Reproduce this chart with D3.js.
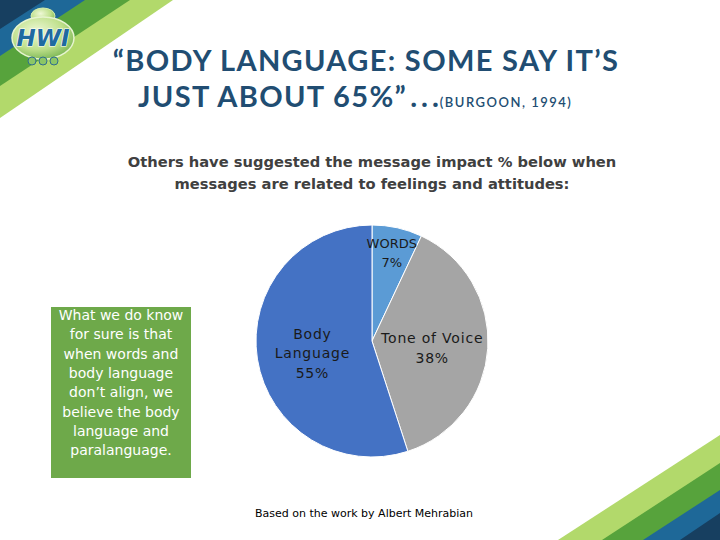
<!DOCTYPE html>
<html>
<head>
<meta charset="utf-8">
<script src="https://cdn.jsdelivr.net/npm/d3@7"></script>
<style>
  html, body { margin: 0; padding: 0; background: #fff; }
  svg { display: block; }
</style>
</head>
<body>
<div id="chart"></div>
<script>
// dati della torta
var categories = ["WORDS", "Tone of Voice", "Body Language"];
var values = [7, 38, 55];
var labelLines = [["WORDS"], ["Tone of Voice"], ["Body", "Language"]];
var sliceColors = ["#5b9bd5", "#a5a5a5", "#4472c4"];

var titleLines = ["\u201cBODY LANGUAGE: SOME SAY IT\u2019S", "JUST ABOUT 65%\u201d"];
var titleDots = "...";
var titleNote = "(BURGOON, 1994)";
var subtitleLines = ["Others have suggested the message impact % below when",
                     "messages are related to feelings and attitudes:"];
var boxLines = ["What we do know", "for sure is that", "when words and", "body language",
                "don\u2019t align, we", "believe the body", "language and", "paralanguage."];
var footer = "Based on the work by Albert Mehrabian";

var width = 720;
var height = 540;

var svg = d3.select("#chart")
            .append("svg")
            .attr("width", width)
            .attr("height", height);

// strisce decorative (angoli)
var stripeColors = ["#b2d96b", "#57a33c", "#1e6898", "#173f60"];
var topLeft = [[173, 118], [130, 86], [85, 56], [45, 29]];
var bottomRight = [[435, 558], [463, 602], [490, 643], [513, 680]];

stripeColors.forEach(function(c, i) {
    svg.append("polygon")
       .attr("points", [[0, 0], [topLeft[i][0], 0], [0, topLeft[i][1]]].join(" "))
       .attr("fill", c);
    svg.append("polygon")
       .attr("points", [[width, height], [width, bottomRight[i][0]], [bottomRight[i][1], height]].join(" "))
       .attr("fill", c);
});

// logo HWI (approssimato)
var defs = svg.append("defs");
var grad = defs.append("radialGradient").attr("id", "logoGrad").attr("cx", "40%").attr("cy", "35%").attr("r", "70%");
grad.append("stop").attr("offset", "0%").attr("stop-color", "#eef8d6");
grad.append("stop").attr("offset", "60%").attr("stop-color", "#bfe08c");
grad.append("stop").attr("offset", "100%").attr("stop-color", "#79b552");

var logo = svg.append("g").attr("transform", "translate(43,38)");
logo.append("ellipse").attr("cx", 0).attr("cy", -22).attr("rx", 12).attr("ry", 8).attr("fill", "url(#logoGrad)").attr("stroke", "#d6eeb0");
logo.append("ellipse").attr("cx", 0).attr("cy", 0).attr("rx", 31).attr("ry", 21).attr("fill", "url(#logoGrad)").attr("stroke", "#e6f4cf").attr("stroke-width", 1.5);
[-11, 0, 11].forEach(function(x) {
    logo.append("circle").attr("cx", x).attr("cy", 23).attr("r", 4).attr("fill", "#8cc665").attr("stroke", "#2f6d8f").attr("stroke-width", 1);
});
logo.append("text")
    .attr("x", 0).attr("y", 8)
    .attr("text-anchor", "middle")
    .style("font", "italic bold 23px 'DejaVu Sans', sans-serif")
    .attr("fill", "#1f6aa0")
    .attr("stroke", "#ffffff")
    .attr("stroke-width", 1.2)
    .attr("paint-order", "stroke")
    .text("HWI");

// titolo
var titleColor = "#214d72";
svg.append("text")
   .attr("x", 366).attr("y", 71)
   .attr("text-anchor", "middle")
   .style("font", "bold 29px Lato, sans-serif")
   .style("letter-spacing", "1.35px")
   .attr("fill", titleColor)
   .text(titleLines[0]);

var t2 = svg.append("text")
   .attr("x", 138).attr("y", 107)
   .style("font", "bold 29px Lato, sans-serif")
   .style("letter-spacing", "1.35px")
   .attr("fill", titleColor);
t2.append("tspan").text(titleLines[1]);
t2.append("tspan").style("letter-spacing", "4px").attr("dx", 3).text(titleDots);
t2.append("tspan").style("font", "600 13px Lato, sans-serif").style("letter-spacing", "1.5px").attr("dx", -3).text(titleNote);

// sottotitolo
subtitleLines.forEach(function(line, i) {
    svg.append("text")
       .attr("x", 372).attr("y", 167 + i * 22)
       .attr("text-anchor", "middle")
       .style("font", "bold 14.7px 'DejaVu Sans', sans-serif")
       .attr("fill", "#404040")
       .text(line);
});

// riquadro verde
svg.append("rect")
   .attr("x", 51).attr("y", 307)
   .attr("width", 140).attr("height", 171)
   .attr("fill", "#6ea94a");

boxLines.forEach(function(line, i) {
    svg.append("text")
       .attr("x", 121).attr("y", 320 + i * 19.3)
       .attr("text-anchor", "middle")
       .style("font", "14px 'DejaVu Sans', sans-serif")
       .attr("fill", "#ffffff")
       .text(line);
});

// torta
var cx = 372, cy = 341, R = 116;
var data = categories.map(function(c, i) {
    return { name: c, value: values[i], lines: labelLines[i], color: sliceColors[i] };
});

var pie = d3.pie().sort(null).value(d => d.value);
var arc = d3.arc().innerRadius(0).outerRadius(R);
var arcs = pie(data);

var gPie = svg.append("g").attr("transform", "translate(" + cx + "," + cy + ")");

gPie.selectAll("path")
    .data(arcs)
    .enter()
    .append("path")
    .attr("d", arc)
    .attr("fill", d => d.data.color)
    .attr("stroke", "#ffffff")
    .attr("stroke-width", 1);

// etichette: le fette piccole vanno piu' verso il bordo
var labels = gPie.selectAll("g.label")
                 .data(arcs)
                 .enter()
                 .append("g")
                 .attr("class", "label")
                 .attr("transform", function(d) {
                     var r = d.data.value < 10 ? 0.78 * R : 0.52 * R;
                     var c = d3.arc().innerRadius(r).outerRadius(r).centroid(d);
                     return "translate(" + c[0] + "," + c[1] + ")";
                 });

labels.each(function(d) {
    var g = d3.select(this);
    var small = d.data.value < 10;
    var lines = d.data.lines.concat([d.data.value + "%"]);
    var n = lines.length;
    lines.forEach(function(line, i) {
        g.append("text")
         .attr("x", 0)
         .attr("y", (i - (n - 1) / 2) * 19.5 + (small ? 5 : 8))
         .attr("text-anchor", "middle")
         .style("font", (small ? "13px" : "14px") + " 'DejaVu Sans', sans-serif")
         .style("letter-spacing", small ? "0px" : "0.8px")
         .attr("fill", "#1a1a1a")
         .text(line);
    });
});

// nota in basso
svg.append("text")
   .attr("x", 364).attr("y", 517)
   .attr("text-anchor", "middle")
   .style("font", "11px 'DejaVu Sans', sans-serif")
   .attr("fill", "#000000")
   .text(footer);
</script>
</body>
</html>
